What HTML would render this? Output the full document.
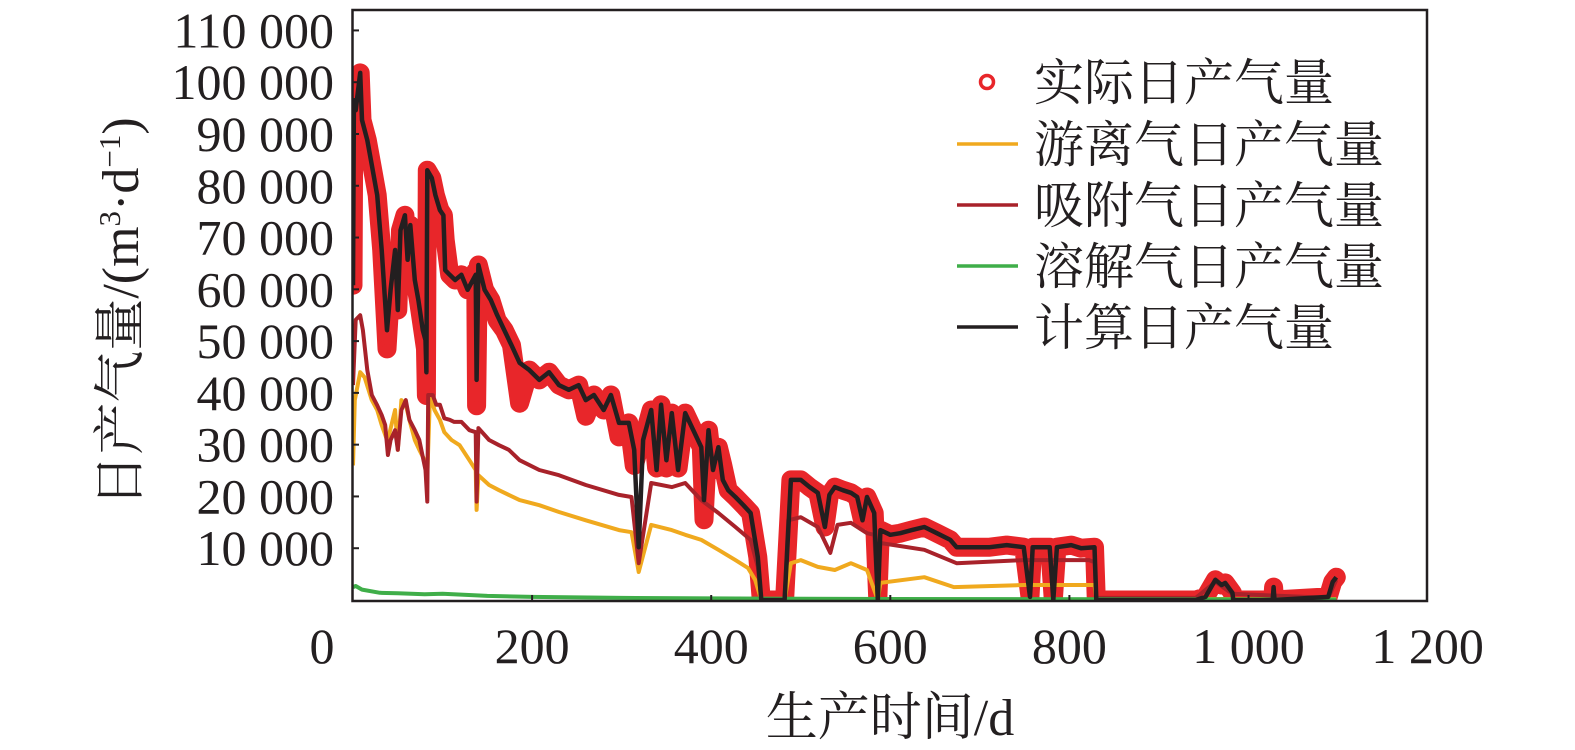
<!DOCTYPE html>
<html><head><meta charset="utf-8">
<style>
html,body{margin:0;padding:0;background:#fff;}
svg{display:block;}
text{font-family:"Liberation Serif","Noto Serif CJK SC",serif;fill:#231f20;}
</style></head>
<body>
<svg id="chart" width="1575" height="750" viewBox="0 0 1575 750" xmlns="http://www.w3.org/2000/svg">
<defs><clipPath id="plotclip"><rect x="352" y="10" width="1076" height="592"/></clipPath></defs>
<g id="series" clip-path="url(#plotclip)"></g>
<rect x="352.5" y="10" width="1074.5" height="591" fill="none" stroke="#231f20" stroke-width="2.5"/>
<g id="yaxis"></g>
<g id="xaxis"></g>
<text x="890" y="735" font-size="52" text-anchor="middle">生产时间/d</text>
<text transform="translate(138,312) rotate(-90)" font-size="52" text-anchor="middle">日产气量/(m<tspan font-size="31" dy="-18">3</tspan><tspan dy="18">·d</tspan><tspan font-size="31" dy="-18">−1</tspan><tspan dy="18">)</tspan></text>
<g id="legend">
  <g>
    <circle cx="987" cy="82" r="6.5" fill="none" stroke="#e8262a" stroke-width="3.5"/>
    <text x="1034" y="100" font-size="50">实际日产气量</text>
  </g>
  <g>
    <line x1="957" y1="144" x2="1018" y2="144" stroke="#f0a91e" stroke-width="3.5"/>
    <text x="1034" y="162" font-size="50">游离气日产气量</text>
  </g>
  <g>
    <line x1="957" y1="205" x2="1018" y2="205" stroke="#a8222a" stroke-width="3.5"/>
    <text x="1034" y="223" font-size="50">吸附气日产气量</text>
  </g>
  <g>
    <line x1="957" y1="266" x2="1018" y2="266" stroke="#3fae49" stroke-width="3.5"/>
    <text x="1034" y="284" font-size="50">溶解气日产气量</text>
  </g>
  <g>
    <line x1="957" y1="327" x2="1018" y2="327" stroke="#231f20" stroke-width="3.5"/>
    <text x="1034" y="345" font-size="50">计算日产气量</text>
  </g>
</g>
</svg>
<script>
const yTicks = [10000,20000,30000,40000,50000,60000,70000,80000,90000,100000,110000];
const yTickLabels = ["10 000","20 000","30 000","40 000","50 000","60 000","70 000","80 000","90 000","100 000","110 000"];
const xTicks = [0,200,400,600,800,1000,1200];
const xTickLabels = ["0","200","400","600","800","1 000","1 200"];

const calcDays = [0,1,3,8,10,16,21,27,32,38,42,47,50,53,58,61,64,69,73,78,81,82,83,88,92,97,101,103,108,114,121,128,137,138,140,147,154,161,169,177,186,197,208,219,230,241,252,260,269,280,288,297,308,314,319,324,330,333,339,344,350,356,363,371,380,389,392,397,402,408,413,419,427,436,444,452,456,482,489,500,510,519,527,532,538,547,556,563,569,574,582,586,589,600,611,624,638,652,667,674,691,711,730,749,756,759,778,782,786,802,813,828,830,941,952,963,970,974,982,983,1027,1028,1029,1089,1094,1098];
const calcValues = [60800,96500,94600,101800,92700,88800,84000,78200,67600,52100,59900,67600,56000,71400,74300,65700,72400,61800,57900,52100,50200,44000,83000,81500,78200,75300,74300,63700,62800,61800,62800,59900,62800,42500,64700,59900,57900,55000,52100,49200,45800,44400,42500,44000,41500,40600,41500,38600,39600,36700,39600,34200,34200,29000,10200,30900,34800,36700,25100,37700,27000,36100,25100,36100,32800,29500,19300,32800,25100,29500,23200,21200,19900,18300,16800,8300,0,0,23200,23200,21800,20700,14100,20300,21800,21200,20700,19900,15400,19900,16800,0,13500,12600,12900,13500,14100,12900,11600,10200,10200,10200,10600,10200,600,10200,10200,0,10200,10600,10000,10200,0,0,600,3900,2900,3300,1400,0,0,2500,0,600,3500,4400];

const actualDays = [0,1,3,8,10,16,21,27,32,38,42,47,50,53,58,61,64,69,73,78,81,82,83,88,92,97,101,103,108,114,121,128,137,138,140,147,154,161,169,177,186,197,208,219,230,241,252,260,269,280,288,297,308,314,319,324,330,333,339,344,350,356,363,371,380,389,392,397,402,408,413,419,427,436,444,452,456,482,489,500,510,519,527,532,538,547,556,563,569,574,582,586,589,600,611,624,638,652,667,674,691,711,730,749,756,759,778,782,786,802,813,828,830,941,952,963,970,974,982,983,1027,1028,1029,1089,1094,1098];
const actualValues = [60800,96500,94600,101800,92700,88800,84000,78200,67600,48500,59900,67600,56000,71400,74300,65700,72400,61800,57900,52100,48500,39500,83000,81500,78200,75300,74300,69500,62800,61800,62800,59900,63500,37500,64700,59900,57900,54000,52100,49200,38000,44400,42500,44000,41500,40600,41500,35500,39600,36700,39600,31500,34200,26000,29000,30900,34800,36700,25500,37700,25500,36100,25500,36100,32800,29500,15500,32800,25100,29500,26000,21200,19900,18300,16800,8300,0,0,23200,23200,21800,20700,14100,20300,21800,21200,20700,19900,15400,19900,16800,0,13500,12600,12900,13500,14100,12900,11600,10200,10200,10200,10600,10200,600,10200,10200,0,10200,10600,10000,10200,0,0,600,3900,2900,3300,1400,0,0,2500,0,600,3500,4400];

const freeDays = [0,2,8,13,21,27,32,38,41,47,50,54,59,63,69,74,80,83,86,91,97,102,110,119,130,137,138,140,152,163,174,186,208,230,260,297,311,319,333,356,371,389,408,427,441,449,456,482,489,500,519,538,556,574,586,589,638,671,749,828,830,1098];
const freeValues = [26000,38600,44000,43000,38600,36700,33800,30900,32400,36700,29000,38600,37700,34800,30900,29000,27000,24100,39600,36700,34800,32400,30900,29900,27000,25100,17400,24100,22200,21200,20300,19300,18300,17000,15400,13500,13100,5400,14500,13500,12600,11600,9700,7700,6200,3900,0,0,7100,7700,6400,5800,7100,5800,0,3300,4400,2500,2900,2900,200,200];

const adsDays = [0,3,8,11,16,21,27,32,36,39,42,47,50,54,59,63,69,74,81,83,84,89,93,97,102,108,113,121,130,137,138,140,152,163,174,186,208,230,260,297,311,319,333,356,371,389,408,427,444,452,456,482,486,500,519,533,541,556,574,582,586,589,638,674,749,822,828,830,941,963,982,1089,1098];
const adsValues = [41500,54100,55000,52100,44400,39600,37600,35700,33800,28000,30900,32800,29000,36700,38600,34800,32800,30900,25100,19000,39600,39600,37700,37700,35100,34800,34400,34400,32800,32400,19000,33200,30900,29900,29000,27000,25100,24100,22200,20300,19900,7100,22600,21800,22600,19300,16800,14100,11600,6400,0,0,15400,16000,14100,9100,14500,14900,12900,12600,0,11000,9700,7100,7700,7700,7300,400,400,3500,1200,400,3900];

const dissDays = [0,3,10,30,50,80,100,150,200,300,400,600,900,1098];
const dissValues = [2500,2700,2000,1400,1300,1100,1200,800,600,400,300,200,150,100];

const NS = "http://www.w3.org/2000/svg";
function xScale(d){ return 353 + d*0.8955; }
function yScale(v){ return 600 - v*0.005178; }
function mk(tag, attrs, parent){ const e=document.createElementNS(NS,tag); for(const k in attrs) e.setAttribute(k,attrs[k]); parent.appendChild(e); return e; }
function pts(days, vals){ return days.map((d,i)=>xScale(d).toFixed(1)+","+yScale(vals[i]).toFixed(1)).join(" "); }

const series = document.getElementById("series");
const band = mk("polyline",{points:pts(actualDays,actualValues),fill:"none",stroke:"#e8262a","stroke-width":"19","stroke-linejoin":"round","stroke-linecap":"round"},series);


const circG = mk("g",{},series);


actualDays.forEach((d,i)=>{
  const c = mk("circle",{cx:xScale(d),cy:yScale(actualValues[i]),r:"7",fill:"none",stroke:"#e8262a","stroke-width":"4"},circG);
  
  
});
const freeL = mk("polyline",{points:pts(freeDays,freeValues),fill:"none",stroke:"#f0a91e","stroke-width":"4","stroke-linejoin":"round"},series);


const adsL = mk("polyline",{points:pts(adsDays,adsValues),fill:"none",stroke:"#a8222a","stroke-width":"4","stroke-linejoin":"round"},series);


const dissL = mk("polyline",{points:pts(dissDays,dissValues),fill:"none",stroke:"#3fae49","stroke-width":"4","stroke-linejoin":"round"},series);


const calcL = mk("polyline",{points:pts(calcDays,calcValues),fill:"none",stroke:"#231f20","stroke-width":"4.5","stroke-linejoin":"round"},series);



const yaxis = document.getElementById("yaxis");
yTicks.forEach((v,i)=>{
  const y = yScale(v);
  const t = mk("line",{x1:353,x2:359,y1:y,y2:y,stroke:"#231f20","stroke-width":"2"},yaxis);
  
  
  const l = mk("text",{x:334,y:y+17,"font-size":"50","text-anchor":"end"},yaxis);
  l.textContent = yTickLabels[i];
  
  
});
const xaxis = document.getElementById("xaxis");
xTicks.forEach((d,i)=>{
  const x = xScale(d);
  if(d>0 && d<1200){
    const t = mk("line",{x1:x,x2:x,y1:601,y2:595,stroke:"#231f20","stroke-width":"2"},xaxis);
    
    
  }
  const l = mk("text",{x:(d===0?322:x),y:663,"font-size":"50","text-anchor":"middle"},xaxis);
  l.textContent = xTickLabels[i];
  
  
});
</script>
</body></html>
